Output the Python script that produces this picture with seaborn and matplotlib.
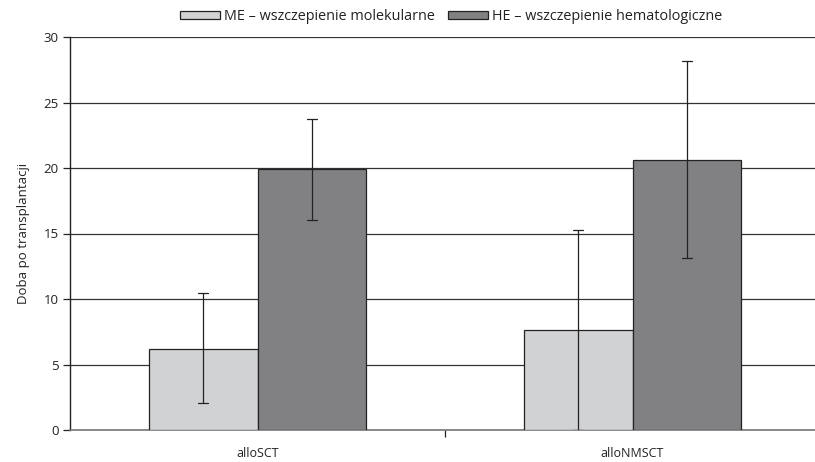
import matplotlib
matplotlib.use("Agg")
import matplotlib.pyplot as plt
import seaborn as sns
import pandas as pd

categories = ["alloSCT", "alloNMSCT"]
series = ["ME – wszczepienie molekularne", "HE – wszczepienie hematologiczne"]
me_values = [6.2, 7.6]
he_values = [19.9, 20.6]
me_err_low = [2.05, 0.0]
me_err_high = [10.45, 15.25]
he_err_low = [16.0, 13.1]
he_err_high = [23.75, 28.2]
yticks = [0, 5, 10, 15, 20, 25, 30]

sns.set_theme(style="white")
plt.rcParams['font.family'] = ['Open Sans', 'DejaVu Sans']

df = pd.DataFrame({
    "cat": categories * 2,
    "series": [series[0]] * 2 + [series[1]] * 2,
    "val": me_values + he_values,
})

fig = plt.figure(figsize=(8.15, 4.62), dpi=100)
ax = fig.add_axes([70/815, 1 - 430/462, (820-70)/815, (430-37)/462])

colors = ["#d1d2d4", "#808184"]
sns.barplot(data=df, x="cat", y="val", hue="series", palette=colors,
            errorbar=None, width=0.58, edgecolor="#222222", linewidth=0.9,
            ax=ax, zorder=3, legend=True)

lows = [me_err_low, he_err_low]
highs = [me_err_high, he_err_high]
for ci, cont in enumerate(ax.containers):
    for bi, patch in enumerate(cont.patches):
        xc = patch.get_x() + patch.get_width() / 2
        ax.plot([xc, xc], [lows[ci][bi], highs[ci][bi]], color="#222222", lw=0.9, zorder=4)
        for yv in (lows[ci][bi], highs[ci][bi]):
            ax.plot([xc - 0.013, xc + 0.013], [yv, yv], color="#222222", lw=0.9, zorder=4)

ax.set_xlim(-0.5, 1.5)
ax.set_ylim(0, 30)
ax.set_yticks(yticks)
ax.yaxis.grid(True, color="#333333", lw=0.9, zorder=0)
ax.set_axisbelow(True)
ax.set_xticks([0, 1])
ax.set_xticklabels(categories, fontsize=9, color="#222222")
ax.tick_params(axis="x", length=0, pad=12)
ax.tick_params(axis="y", length=5, width=0.9, color="#222222", labelsize=9.5,
               labelcolor="#222222", left=True, pad=3)
ax.set_xticks([0.5], minor=True)
ax.tick_params(axis="x", which="minor", length=5, width=0.9, color="#222222", bottom=True, direction="out")

for s in ["top", "right"]:
    ax.spines[s].set_visible(False)
ax.spines["left"].set_color("#222222")
ax.spines["left"].set_linewidth(1.0)
ax.spines["bottom"].set_color("#777777")
ax.spines["bottom"].set_linewidth(1.2)

ax.set_xlabel("")
ax.set_ylabel("Doba po transplantacji", fontsize=9.5, color="#222222", labelpad=10)

leg = ax.legend(loc="center", bbox_to_anchor=((451-70)/750, (430-17)/393), ncol=2,
                frameon=False, fontsize=10.4, handlelength=2.75, handleheight=0.48,
                columnspacing=0.9, handletextpad=0.28, borderaxespad=0.0, borderpad=0.0)
for t in leg.get_texts():
    t.set_color("#222222")

fig.savefig("out.png", dpi=100)
